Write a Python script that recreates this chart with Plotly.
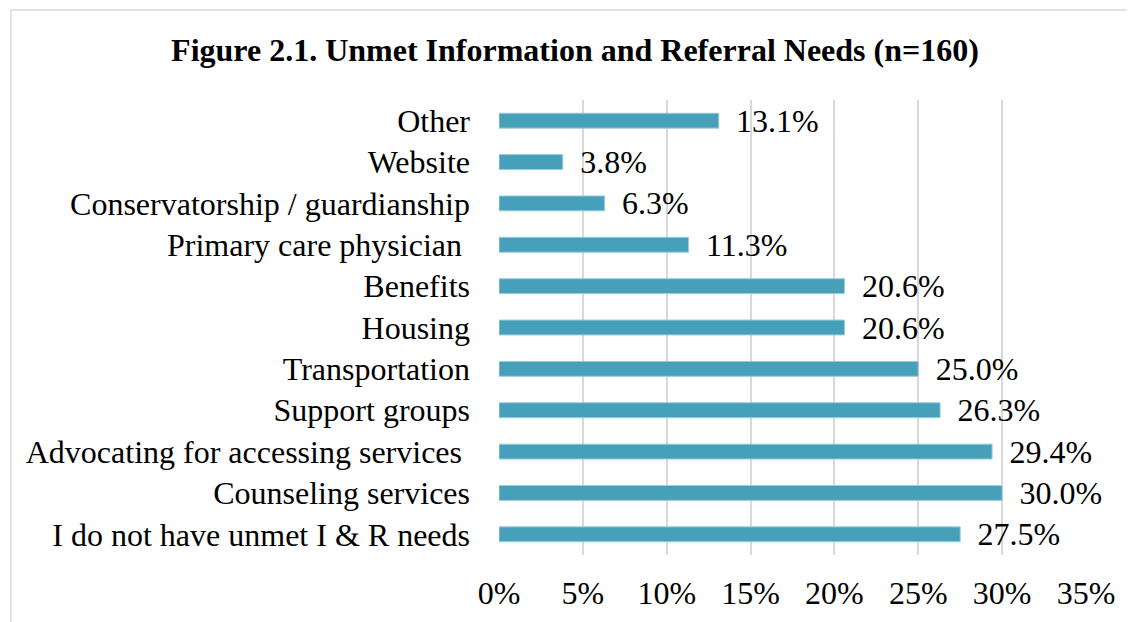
import plotly.graph_objects as go

# categories listed bottom -> top, as plotted
categories = [
    "I do not have unmet I & R needs",
    "Counseling services",
    "Advocating for accessing services\u00a0",
    "Support groups",
    "Transportation",
    "Housing",
    "Benefits",
    "Primary care physician\u00a0",
    "Conservatorship / guardianship",
    "Website",
    "Other",
]
values = [27.5, 30.0, 29.4, 26.3, 25.0, 20.6, 20.6, 11.3, 6.3, 3.8, 13.1]
tick_vals = [0, 5, 10, 15, 20, 25, 30, 35]
tick_text = ["0%", "5%", "10%", "15%", "20%", "25%", "30%", "35%"]

FONT = "Liberation Serif, Times New Roman, serif"
FS = 32
OFF = 8  # page body margin
W, H = 1135 - OFF, 622 - OFF
ml, mr, mt, mb = 498.5 - OFF, 49, 100 - OFF, 67


def px_to_paper_x(px):
    return (px - OFF - ml) / (W - ml - mr)


def px_to_paper_y(py):
    return (H - mb - (py - OFF)) / (H - mt - mb)


fig = go.Figure()

fig.add_trace(go.Bar(
    x=values,
    y=categories,
    orientation="h",
    marker_color="#46A0BA",
    marker_line=dict(color="#9CCCDA", width=1),
    text=[f"{v:.1f}%" for v in values],
    texttemplate=" \u2009%{text}",
    textposition="outside",
    constraintext="none",
    textfont=dict(family=FONT, size=FS, color="#000000"),
    cliponaxis=False,
    hoverinfo="x+y",
))

fig.update_layout(
    width=W,
    height=H,
    margin=dict(l=ml, r=mr, t=mt, b=mb, autoexpand=False),
    paper_bgcolor="white",
    plot_bgcolor="white",
    bargap=0.64,
    showlegend=False,
    font=dict(family=FONT, size=FS, color="#000000"),
    title=dict(
        text="<b>Figure 2.1. Unmet Information and Referral Needs (n=160)</b>",
        x=(575 - OFF) / W,
        xanchor="center",
        xref="container",
        y=1 - (50 - OFF) / H,
        yanchor="middle",
        yref="container",
        font=dict(family=FONT, size=FS, color="#000000"),
    ),
    shapes=[dict(
        type="rect",
        xref="paper", yref="paper",
        x0=px_to_paper_x(10), x1=px_to_paper_x(1160),
        y0=px_to_paper_y(10), y1=px_to_paper_y(650),
        line=dict(color="#D9D9D9", width=1.5),
        fillcolor="rgba(0,0,0,0)",
        layer="below",
    )],
)

fig.update_xaxes(
    range=[0, 35],
    tickvals=tick_vals,
    ticktext=tick_text,
    showgrid=True,
    gridcolor="#D9D9D9",
    gridwidth=1.5,
    zeroline=False,
    showline=False,
    ticks="",
    ticklabelstandoff=16,
    tickfont=dict(family=FONT, size=FS, color="#000000"),
    fixedrange=True,
)

fig.update_yaxes(
    categoryorder="array",
    categoryarray=categories,
    showgrid=False,
    zeroline=False,
    showline=False,
    ticks="",
    ticklabelstandoff=28,
    tickfont=dict(family=FONT, size=FS, color="#000000"),
    fixedrange=True,
)

fig.write_html("out.html")
